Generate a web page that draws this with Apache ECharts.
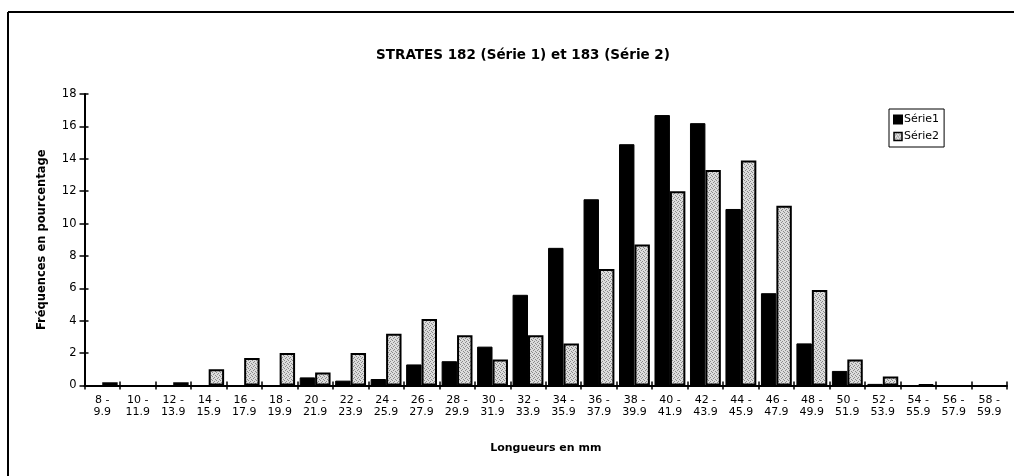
<!DOCTYPE html>
<html><head><meta charset="utf-8">
<script src="https://cdn.jsdelivr.net/npm/echarts@6/dist/echarts.min.js"></script>
<style>html,body{margin:0;padding:0;background:#fff}#c{width:1014px;height:476px}</style>
</head><body><div id="c"></div>
<script>
var lowerBounds = ["8","10","12","14","16","18","20","22","24","26","28","30","32","34","36","38","40","42","44","46","48","50","52","54","56","58"];
var upperBounds = ["9.9","11.9","13.9","15.9","17.9","19.9","21.9","23.9","25.9","27.9","29.9","31.9","33.9","35.9","37.9","39.9","41.9","43.9","45.9","47.9","49.9","51.9","53.9","55.9","57.9","59.9"];
var serie1 = [0,0,0,0,0,0,0.5,0.3,0.4,1.3,1.5,2.4,5.6,8.5,11.5,14.9,16.7,16.2,10.9,5.7,2.6,0.9,0.1,0,0,0];
var serie2 = [0.2,0,0.2,1.0,1.7,2.0,0.8,2.0,3.2,4.1,3.1,1.6,3.1,2.6,7.2,8.7,12.0,13.3,13.9,11.1,5.9,1.6,0.55,0.05,0,0];
var yTicks = [0,2,4,6,8,10,12,14,16,18];

var categories = lowerBounds.map(function(l,i){ return l + " -\n" + upperBounds[i]; });

// stipple pattern for Série2
var pc = document.createElement('canvas');
pc.width = 4; pc.height = 4;
var px = pc.getContext('2d');
px.fillStyle = '#dcdcdc'; px.fillRect(0,0,4,4);
px.fillStyle = '#8a8a8a';
px.fillRect(0,0,1,1); px.fillRect(2,1,1,1); px.fillRect(1,2,1,1); px.fillRect(3,3,1,1);
var pattern = {image: pc, repeat: 'repeat'};

function noZeroBorder(arr){
  return arr.map(function(v){ return v === 0 ? {value: v, itemStyle: {borderWidth: 0}} : v; });
}

var FONT = 'DejaVu Sans';
var chart = echarts.init(document.getElementById('c'), null, {renderer:'canvas'});
chart.setOption({
  animation: false,
  backgroundColor: '#fff',
  textStyle: {fontFamily: FONT, color: '#000'},
  title: {
    text: 'STRATES 182 (Série 1) et 183 (Série 2)',
    left: 518, top: 43, textAlign: 'center',
    textStyle: {fontFamily: FONT, fontSize: 13.5, fontWeight: 'bold', color: '#000'}
  },
  legend: {
    orient: 'vertical', left: 889, top: 109,
    itemWidth: 8, itemHeight: 8, itemGap: 6,
    padding: [5,5,5,4],
    borderColor: '#000', borderWidth: 1,
    textStyle: {fontFamily: FONT, fontSize: 11, color: '#000', padding: [0,0,0,-3]},
    data: [
      {name: 'Série1', icon: 'rect', itemStyle: {color: '#000'}},
      {name: 'Série2', icon: 'rect', itemStyle: {color: pattern, borderColor: '#000', borderWidth: 1.5}}
    ]
  },
  grid: {left: 84.5, right: 7, top: 94, bottom: 90.5, containLabel: false},
  xAxis: [{
    type: 'category', data: categories,
    axisLine: {lineStyle: {color: '#000', width: 2}},
    axisTick: {show: true, length: 4, lineStyle: {color: '#000', width: 1.5}},
    axisLabel: {color: '#000', fontFamily: FONT, fontSize: 11, lineHeight: 12, margin: 9, interval: 0},
    name: 'Longueurs en mm', nameLocation: 'middle', nameGap: 57,
    nameTextStyle: {fontFamily: FONT, fontSize: 11, fontWeight: 'bold', color: '#000'}
  },{
    type: 'category', data: categories, position: 'bottom',
    axisLine: {show: false},
    axisTick: {show: true, inside: true, length: 4, lineStyle: {color: '#000', width: 1.5}},
    axisLabel: {show: false}
  }],
  yAxis: [{
    type: 'value', min: 0, max: 18, interval: 2,
    axisLine: {show: true, lineStyle: {color: '#000', width: 2}},
    axisTick: {show: true, length: 5, lineStyle: {color: '#000', width: 1.5}},
    splitLine: {show: false},
    axisLabel: {color: '#000', fontFamily: FONT, fontSize: 11.5, margin: 8,
      formatter: function(v){ return yTicks.indexOf(v) >= 0 ? String(v) : ''; }},
    name: 'Fréquences en pourcentage', nameLocation: 'middle', nameGap: 36, nameRotate: 90,
    nameTextStyle: {fontFamily: FONT, fontSize: 11.5, fontWeight: 'bold', color: '#000'}
  },{
    type: 'value', min: 0, max: 18, interval: 2, position: 'left',
    axisLine: {show: false},
    axisTick: {show: true, inside: true, length: 4, lineStyle: {color: '#000', width: 1.5}},
    splitLine: {show: false},
    axisLabel: {show: false}
  }],
  series: [{
    name: 'Série1', type: 'bar', data: noZeroBorder(serie1),
    barGap: '0%', barCategoryGap: '13%',
    itemStyle: {color: '#000', borderColor: '#000', borderWidth: 1}
  },{
    name: 'Série2', type: 'bar', data: noZeroBorder(serie2),
    barGap: '0%', barCategoryGap: '13%',
    itemStyle: {color: pattern, borderColor: '#000', borderWidth: 2}
  }],
  graphic: [
    {type: 'line', shape: {x1: 8, y1: 12, x2: 1014, y2: 12}, style: {stroke: '#000', lineWidth: 2}},
    {type: 'line', shape: {x1: 8, y1: 12, x2: 8, y2: 476}, style: {stroke: '#000', lineWidth: 2}}
  ]
});
</script>
</body></html>
